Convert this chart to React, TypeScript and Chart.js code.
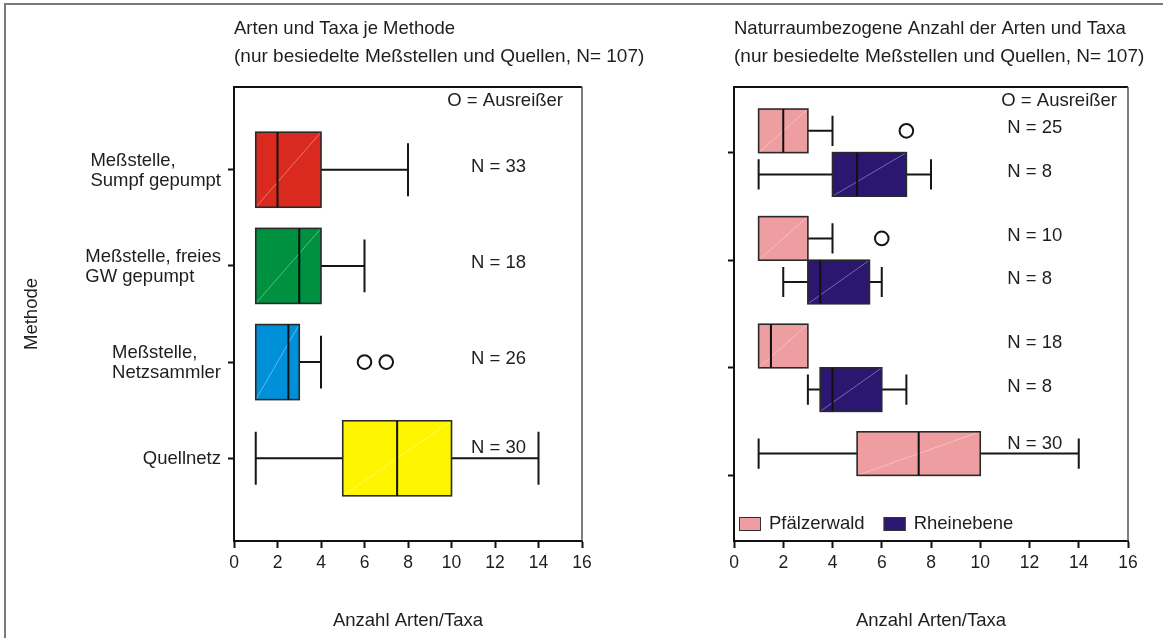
import React, { useEffect, useRef } from "react";
import { Chart, registerables } from "chart.js";

Chart.register(...registerables);

const FONT = '"Liberation Sans", Arial, Helvetica, sans-serif';
const INK = "#1e1e1e";

// Left panel: number of species/taxa per sampling method
const methodLabels = [
  ["Meßstelle,", "Sumpf gepumpt"],
  ["Meßstelle, freies", "GW gepumpt"],
  ["Meßstelle,", "Netzsammler"],
  ["Quellnetz"],
];
const methodMin = [1, 1, 1, 1];
const methodQ1 = [1, 1, 1, 5];
const methodMedian = [2, 3, 2.5, 7.5];
const methodQ3 = [4, 4, 3, 10];
const methodMax = [8, 6, 4, 14];
const methodN = [33, 18, 26, 30];
const methodOutliers = [[], [], [6, 7], []];
const methodColors = ["#DA2A1F", "#009140", "#0090DA", "#FFF500"];

// Right panel: the same methods split by natural region
const regionNames = ["Pfälzerwald", "Rheinebene"];
const regionColors = ["#EE9DA0", "#2C1770"];
const pfMin = [1, 1, 1, 1];
const pfQ1 = [1, 1, 1, 5];
const pfMedian = [2, 1, 1.5, 7.5];
const pfQ3 = [3, 3, 3, 10];
const pfMax = [4, 4, 3, 14];
const pfN = [25, 10, 18, 30];
const pfOutliers = [[7], [6], [], []];
const rhMin = [1, 2, 3];
const rhQ1 = [4, 3, 3.5];
const rhMedian = [5, 3.5, 4];
const rhQ3 = [7, 5.5, 6];
const rhMax = [8, 6, 7];
const rhN = [8, 8, 8];
const rhOutliers = [[], [], []];

const xTickValues = [0, 2, 4, 6, 8, 10, 12, 14, 16];
const groupTicks = [1, 2, 3, 4];

const leftTitle = ["Arten und Taxa je Methode", "(nur besiedelte Meßstellen und Quellen, N= 107)"];
const rightTitle = ["Naturraumbezogene Anzahl der Arten und Taxa", "(nur besiedelte Meßstellen und Quellen, N= 107)"];
const outlierNote = "O = Ausreißer";
const xTitle = "Anzahl Arten/Taxa";
const yTitle = "Methode";

type Box = {
  pos: number;
  half: number;
  cap: number;
  min: number;
  q1: number;
  med: number;
  q3: number;
  max: number;
  color: string;
  n: number;
};

const f = (size: number) => `${size}px ${FONT}`;

// Draws box, whiskers and median for every box spec through the chart's scales
const boxPlotPlugin = {
  id: "boxPlot",
  beforeDatasetsDraw(chart: any, _args: any, opts: any) {
    const { ctx } = chart;
    const xs = chart.scales.x;
    const ys = chart.scales.y;
    const px = (v: number) => xs.getPixelForValue(v);
    ctx.save();
    for (const b of opts.boxes as Box[]) {
      const top = ys.getPixelForValue(b.pos - b.half);
      const bot = ys.getPixelForValue(b.pos + b.half);
      const cy = ys.getPixelForValue(b.pos);
      const capT = ys.getPixelForValue(b.pos - b.cap);
      const capB = ys.getPixelForValue(b.pos + b.cap);
      ctx.strokeStyle = "#151515";
      ctx.lineWidth = 2;
      ctx.lineCap = "butt";
      if (b.min < b.q1) {
        ctx.beginPath();
        ctx.moveTo(px(b.min), cy);
        ctx.lineTo(px(b.q1), cy);
        ctx.moveTo(px(b.min), capT);
        ctx.lineTo(px(b.min), capB);
        ctx.stroke();
      }
      if (b.max > b.q3) {
        ctx.beginPath();
        ctx.moveTo(px(b.q3), cy);
        ctx.lineTo(px(b.max), cy);
        ctx.moveTo(px(b.max), capT);
        ctx.lineTo(px(b.max), capB);
        ctx.stroke();
      }
      const l = px(b.q1);
      const r = px(b.q3);
      ctx.fillStyle = b.color;
      ctx.fillRect(l, top, r - l, bot - top);
      ctx.strokeStyle = "rgba(255,255,255,0.45)";
      ctx.lineWidth = 0.8;
      ctx.beginPath();
      ctx.moveTo(l, bot);
      ctx.lineTo(r, top);
      ctx.stroke();
      ctx.strokeStyle = "#2a2a2a";
      ctx.lineWidth = 1.6;
      ctx.strokeRect(l, top, r - l, bot - top);
      // a median on the box edge coincides with the edge itself
      if (b.med > b.q1 && b.med < b.q3) {
        ctx.strokeStyle = "#111";
        ctx.lineWidth = 2;
        ctx.beginPath();
        ctx.moveTo(px(b.med), top);
        ctx.lineTo(px(b.med), bot);
        ctx.stroke();
      }
    }
    ctx.restore();
  },
};

// Titles, frame, N labels, category labels and legend
const panelTextPlugin = {
  id: "panelText",
  afterDraw(chart: any, _args: any, opts: any) {
    const { ctx, chartArea: a } = chart;
    const xs = chart.scales.x;
    const ys = chart.scales.y;
    ctx.save();
    // top and right frame of the plot area
    ctx.strokeStyle = "#111";
    ctx.lineWidth = 2;
    ctx.beginPath();
    ctx.moveTo(a.left, a.top);
    ctx.lineTo(a.right, a.top);
    ctx.stroke();
    ctx.strokeStyle = "#555";
    ctx.lineWidth = 1.5;
    ctx.beginPath();
    ctx.moveTo(a.right, a.top);
    ctx.lineTo(a.right, a.bottom);
    ctx.stroke();

    ctx.fillStyle = INK;
    ctx.textBaseline = "middle";
    ctx.textAlign = "left";
    (opts.title as string[]).forEach((t, i) => {
      ctx.font = f(i === 0 ? 18.5 : 19);
      ctx.fillText(t, a.left, 29 + i * 28);
    });

    ctx.font = f(18.5);
    ctx.textAlign = "right";
    ctx.fillText(outlierNote, a.right - opts.noteInset, a.top + 14);

    ctx.textAlign = "left";
    for (const b of opts.boxes as Box[]) {
      const lift = b.max >= opts.nLabelX ? 10 : 3;
      ctx.fillText(`N = ${b.n}`, xs.getPixelForValue(opts.nLabelX), ys.getPixelForValue(b.pos) - lift);
    }

    if (opts.categories) {
      const lh = 20;
      (opts.categories as string[][]).forEach((lines, i) => {
        const cy = ys.getPixelForValue(groupTicks[i]) + 1;
        const w = Math.max(...lines.map((s) => ctx.measureText(s).width));
        const x0 = a.left - 13 - w;
        lines.forEach((s, j) => ctx.fillText(s, x0, cy + (j - (lines.length - 1) / 2) * lh));
      });
    }

    if (opts.yTitle) {
      ctx.save();
      ctx.translate(32, (a.top + a.bottom) / 2);
      ctx.rotate(-Math.PI / 2);
      ctx.textAlign = "center";
      ctx.fillText(opts.yTitle, 0, 0);
      ctx.restore();
    }

    if (opts.legend) {
      let x = a.left + 5;
      const cy = a.bottom - 17;
      (opts.legend as { name: string; color: string }[]).forEach((it) => {
        ctx.fillStyle = it.color;
        ctx.fillRect(x, cy - 7, 22, 14);
        ctx.strokeStyle = "#333";
        ctx.lineWidth = 1;
        ctx.strokeRect(x + 0.5, cy - 6.5, 21, 13);
        ctx.fillStyle = INK;
        ctx.textAlign = "left";
        ctx.fillText(it.name, x + 30, cy);
        x += 30 + ctx.measureText(it.name).width + 19;
      });
    }
    ctx.restore();
  },
};

function makeConfig(p: {
  boxes: Box[];
  outliers: { x: number; y: number }[];
  yMin: number;
  yMax: number;
  yWidth: number;
  rightPad: number;
  text: any;
}) {
  return {
    type: "scatter",
    data: {
      datasets: [
        {
          data: p.outliers,
          pointRadius: 6.8,
          pointHoverRadius: 6.8,
          borderWidth: 2,
          borderColor: "#151515",
          backgroundColor: "rgba(0,0,0,0)",
        },
      ],
    },
    options: {
      responsive: false,
      animation: false,
      devicePixelRatio: 1,
      events: [],
      layout: { padding: { left: 0, top: 87, right: p.rightPad, bottom: 0 } },
      plugins: {
        legend: { display: false },
        tooltip: { enabled: false },
        boxPlot: { boxes: p.boxes },
        panelText: { boxes: p.boxes, ...p.text },
      },
      scales: {
        x: {
          type: "linear",
          min: 0,
          max: 16,
          afterBuildTicks: (s: any) => {
            s.ticks = xTickValues.map((v) => ({ value: v }));
          },
          afterFit: (s: any) => {
            s.height = 97;
          },
          grid: { drawOnChartArea: false, drawTicks: true, tickLength: 7, tickWidth: 2, tickColor: "#111" },
          border: { display: true, color: "#111", width: 2 },
          ticks: { color: INK, font: { family: FONT, size: 17.5 }, padding: 5, maxRotation: 0, autoSkip: false },
          title: {
            display: true,
            text: xTitle,
            color: INK,
            font: { family: FONT, size: 18.5 },
            padding: { top: 0, bottom: 6 },
          },
        },
        y: {
          type: "linear",
          reverse: true,
          min: p.yMin,
          max: p.yMax,
          afterBuildTicks: (s: any) => {
            s.ticks = groupTicks.map((v) => ({ value: v }));
          },
          afterFit: (s: any) => {
            s.width = p.yWidth;
          },
          grid: { drawOnChartArea: false, drawTicks: true, tickLength: 6, tickWidth: 2, tickColor: "#111" },
          border: { display: true, color: "#111", width: 2 },
          ticks: { display: false },
        },
      },
    },
    plugins: [boxPlotPlugin, panelTextPlugin],
  } as any;
}

function buildLeft() {
  const boxes: Box[] = methodQ1.map((_, i) => ({
    pos: groupTicks[i],
    half: 0.39,
    cap: 0.275,
    min: methodMin[i],
    q1: methodQ1[i],
    med: methodMedian[i],
    q3: methodQ3[i],
    max: methodMax[i],
    color: methodColors[i],
    n: methodN[i],
  }));
  const outliers = methodOutliers.flatMap((arr, i) => arr.map((v) => ({ x: v, y: groupTicks[i] })));
  return makeConfig({
    boxes,
    outliers,
    yMin: 0.14,
    yMax: 4.86,
    yWidth: 234,
    rightPad: 118,
    text: {
      title: leftTitle,
      noteInset: 19,
      nLabelX: 10.9,
      categories: methodLabels,
      yTitle,
    },
  });
}

function buildRight() {
  const half = 0.2025;
  const boxes: Box[] = [];
  const outliers: { x: number; y: number }[] = [];
  pfQ1.forEach((_, i) => {
    const pos = groupTicks[i] - half;
    boxes.push({
      pos,
      half,
      cap: 0.14,
      min: pfMin[i],
      q1: pfQ1[i],
      med: pfMedian[i],
      q3: pfQ3[i],
      max: pfMax[i],
      color: regionColors[0],
      n: pfN[i],
    });
    pfOutliers[i].forEach((v) => outliers.push({ x: v, y: pos }));
    if (i < rhQ1.length) {
      const pos2 = groupTicks[i] + half;
      boxes.push({
        pos: pos2,
        half,
        cap: 0.14,
        min: rhMin[i],
        q1: rhQ1[i],
        med: rhMedian[i],
        q3: rhQ3[i],
        max: rhMax[i],
        color: regionColors[1],
        n: rhN[i],
      });
      rhOutliers[i].forEach((v) => outliers.push({ x: v, y: pos2 }));
    }
  });
  return makeConfig({
    boxes,
    outliers,
    yMin: 0.39,
    yMax: 4.61,
    yWidth: 34,
    rightPad: 35,
    text: {
      title: rightTitle,
      noteInset: 11,
      nLabelX: 11.1,
      legend: regionNames.map((name, i) => ({ name, color: regionColors[i] })),
    },
  });
}

export default function App() {
  const leftRef = useRef<HTMLCanvasElement>(null);
  const rightRef = useRef<HTMLCanvasElement>(null);

  useEffect(() => {
    const c1 = new Chart(leftRef.current as HTMLCanvasElement, buildLeft());
    const c2 = new Chart(rightRef.current as HTMLCanvasElement, buildRight());
    return () => {
      c1.destroy();
      c2.destroy();
    };
  }, []);

  return (
    <div
      style={{
        position: "absolute",
        left: 0,
        top: 0,
        width: 1163,
        height: 638,
        overflow: "hidden",
        background: "#fff",
      }}
    >
      <div
        style={{
          position: "absolute",
          left: 4,
          top: 3,
          width: 1200,
          height: 700,
          borderTop: "2px solid #7a7a7a",
          borderLeft: "2px solid #7a7a7a",
        }}
      />
      <canvas
        ref={leftRef}
        width={700}
        height={638}
        style={{ position: "absolute", left: 0, top: 0, width: 700, height: 638 }}
      />
      <canvas
        ref={rightRef}
        width={463}
        height={638}
        style={{ position: "absolute", left: 700, top: 0, width: 463, height: 638 }}
      />
    </div>
  );
}
